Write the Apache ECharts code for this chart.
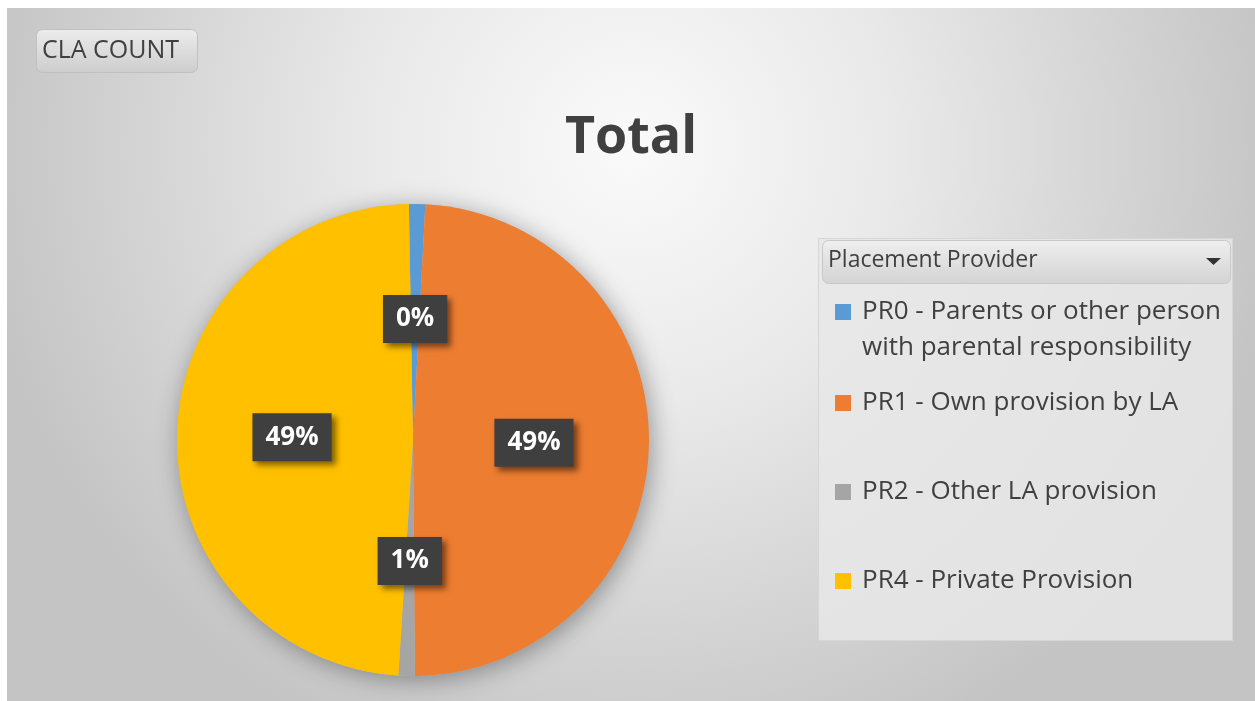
<!DOCTYPE html>
<html>
<head>
<meta charset="utf-8">
<script src="https://cdn.jsdelivr.net/npm/echarts@6/dist/echarts.min.js"></script>
<style>
  html, body { margin: 0; padding: 0; background: #fff; }
  #main { position: absolute; left: 7px; top: 8px; width: 1248px; height: 693px; }
</style>
</head>
<body>
<div id="main"></div>
<script>
// placement provider categories and CLA counts
var categories = [
  "PR0 - Parents or other person with parental responsibility",
  "PR1 - Own provision by LA",
  "PR2 - Other LA provision",
  "PR4 - Private Provision"
];
var counts = [3, 330, 6, 328];
var colors = ["#5B9BD5", "#ED7D31", "#A5A5A5", "#FFC000"];
var legendTops = [245, 372, 461, 550];

var FONT = "'Open Sans', 'Noto Sans', sans-serif";
var myChart = echarts.init(document.getElementById("main"));

var pieData = [];
for (var i = 0; i < categories.length; i++) {
  pieData.push({ name: categories[i], value: counts[i], itemStyle: { color: colors[i] } });
}

// one legend per item so the spacing follows the reference
var legends = [];
for (var j = 0; j < categories.length; j++) {
  legends.push({
    data: [categories[j]],
    orient: "vertical",
    left: 823,
    top: legendTops[j],
    selectedMode: false,
    itemWidth: 16,
    itemHeight: 16,
    icon: "rect",
    textStyle: {
      fontFamily: FONT,
      fontSize: 26,
      lineHeight: 36,
      color: "#404040",
      padding: [0, 0, 0, 6]
    },
    formatter: function (name) {
      // first line lines up with the icon
      if (name.indexOf(" with ") > -1) {
        return "\n" + name.replace(" with ", "\nwith ");
      }
      return name;
    }
  });
}

myChart.setOption({
  backgroundColor: {
    type: "radial",
    x: 0.5,
    y: 0.2,
    r: 0.95,
    colorStops: [
      { offset: 0, color: "#fafafa" },
      { offset: 0.4, color: "#e9e9e9" },
      { offset: 1, color: "#c4c4c4" }
    ]
  },
  title: {
    text: "Total",
    left: "center",
    top: 99,
    textStyle: { fontFamily: FONT, fontSize: 52, fontWeight: "bold", color: "#404040" }
  },
  legend: legends,
  graphic: [
    {
      type: "rect",
      left: 29,
      top: 21,
      shape: { width: 161, height: 43, r: 6 },
      style: {
        fill: { type: "linear", x: 0, y: 0, x2: 0, y2: 1,
          colorStops: [{ offset: 0, color: "#ececec" }, { offset: 1, color: "#cdcdcd" }] },
        stroke: "#c0c0c0", lineWidth: 1
      },
      z: 10
    },
    {
      type: "text",
      left: 35,
      top: 30,
      style: { text: "CLA COUNT", font: "25px " + FONT, fill: "#404040" },
      z: 11
    },
    {
      type: "rect",
      left: 811,
      top: 230,
      shape: { width: 414, height: 402 },
      style: { fill: "rgba(232,232,232,0.85)", stroke: "#d6d6d6", lineWidth: 1 },
      z: 0
    },
    {
      type: "rect",
      left: 815,
      top: 232,
      shape: { width: 408, height: 43, r: 6 },
      style: {
        fill: { type: "linear", x: 0, y: 0, x2: 0, y2: 1,
          colorStops: [{ offset: 0, color: "#efefef" }, { offset: 1, color: "#d3d3d3" }] },
        stroke: "#c8c8c8", lineWidth: 1
      },
      z: 10
    },
    {
      type: "text",
      left: 821,
      top: 241,
      style: { text: "Placement Provider", font: "23px " + FONT, fill: "#404040" },
      z: 11
    },
    {
      type: "polygon",
      shape: { points: [[1199, 250], [1214, 250], [1206.5, 257]] },
      style: { fill: "#333" },
      z: 11
    }
  ],
  series: [
    {
      // shadow disc behind the pie
      type: "pie",
      silent: true,
      center: [406, 432],
      radius: 236,
      z: 1,
      label: { show: false },
      labelLine: { show: false },
      data: [{ value: 1, itemStyle: { color: "#bbbbbb", shadowBlur: 24, shadowColor: "rgba(0,0,0,0.35)", shadowOffsetX: 3, shadowOffsetY: 4 } }]
    },
    {
      name: "CLA COUNT",
      type: "pie",
      center: [406, 432],
      radius: 236,
      startAngle: 91,
      clockwise: true,
      minAngle: 4,
      avoidLabelOverlap: false,
      z: 2,
      itemStyle: { borderWidth: 0 },
      emphasis: { disabled: true },
      label: {
        show: true,
        position: "inside",
        formatter: function (p) {
          return Math.round(p.percent) + "%";
        },
        fontFamily: FONT,
        fontSize: 26,
        fontWeight: "bold",
        color: "#ffffff",
        backgroundColor: "#3f3f3f",
        padding: [12, 13, 10, 13],
        shadowBlur: 6,
        shadowColor: "rgba(0,0,0,0.5)",
        shadowOffsetX: 4,
        shadowOffsetY: 4
      },
      labelLine: { show: false },
      data: pieData
    }
  ]
});
</script>
</body>
</html>
